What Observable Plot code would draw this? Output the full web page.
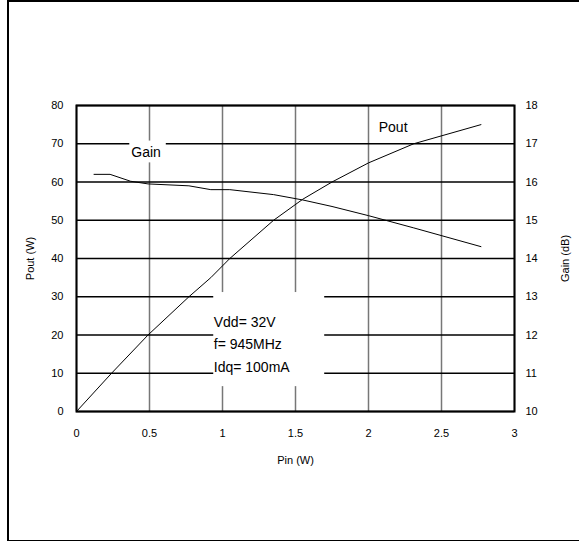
<!DOCTYPE html>
<html>
<head>
<meta charset="utf-8">
<script src="https://cdn.jsdelivr.net/npm/d3@7"></script>
<script src="https://cdn.jsdelivr.net/npm/@observablehq/plot@0.6"></script>
<style>
  html, body { margin: 0; padding: 0; background: #fff; overflow: hidden; }
  #wrap { position: relative; width: 579px; height: 541px; overflow: hidden; }
  #border { position: absolute; left: 7px; top: 0; width: 800px; height: 538px;
            border-top: 2px solid #000; border-left: 2px solid #000; border-bottom: 1.5px solid #000; border-right: none; box-sizing: content-box; }
  #chart { position: absolute; left: 0; top: 0; }
</style>
</head>
<body>
<div id="wrap"><div id="border"></div><div id="chart"></div></div>
<script>
// Pout (W) vs Pin (W)
const poutPin = [0, 0.24, 0.49, 0.77, 0.92, 1.05, 1.35, 1.55, 1.75, 2.0, 2.31, 2.77];
const poutW   = [0, 10, 20, 30, 35, 40, 50, 55.5, 60, 65, 70, 75];
// Gain (dB) vs Pin (W)
const gainPin = [0.12, 0.23, 0.37, 0.49, 0.77, 0.92, 1.05, 1.35, 1.55, 1.75, 2.0, 2.31, 2.77];
const gainDb  = [16.2, 16.2, 16.02, 15.95, 15.9, 15.8, 15.8, 15.67, 15.53, 15.36, 15.12, 14.8, 14.31];
// tick labels
const xTicks = [0, 0.5, 1, 1.5, 2, 2.5, 3];
const yLeftTicks = [0, 10, 20, 30, 40, 50, 60, 70, 80];
const yRightTicks = [10, 11, 12, 13, 14, 15, 16, 17, 18];
const noteLines = ["Vdd= 32V", "f= 945MHz", "Idq= 100mA"];

const pout = poutPin.map((p, i) => ({pin: p, pout: poutW[i]}));
const gain = gainPin.map((p, i) => ({pin: p, gain: gainDb[i]}));
// map gain (10..18 dB) onto left scale (0..80)
const g2y = g => (g - 10) * 10;

const font = "'Liberation Sans', Arial, sans-serif";

const chart = Plot.plot({
  width: 579,
  height: 541,
  marginLeft: 76,
  marginRight: 65,
  marginTop: 105,
  marginBottom: 130,
  style: {fontFamily: font, fontSize: "11px", color: "#000", background: "transparent"},
  x: {domain: [0, 3]},
  y: {domain: [0, 80]},
  marks: [
    Plot.gridX(xTicks, {stroke: "#777", strokeOpacity: 1, strokeWidth: 1.5}),
    Plot.gridY(yLeftTicks, {stroke: "#000", strokeOpacity: 1, strokeWidth: 1.5}),
    // white boxes behind annotations
    Plot.rect([0], {x1: 0.94, x2: 1.70, y1: 6.5, y2: 31.1, fill: "white"}),
    Plot.rect([0], {x1: 0.365, x2: 0.615, y1: 65, y2: 70.7, fill: "white"}),
    Plot.frame({stroke: "#000", strokeWidth: 2}),
    Plot.line(pout, {x: "pin", y: "pout", stroke: "#000", strokeWidth: 1}),
    Plot.line(gain, {x: "pin", y: d => g2y(d.gain), stroke: "#000", strokeWidth: 1}),
    Plot.axisX(xTicks, {tickSize: 0, tickPadding: 18, fontSize: 11, tickFormat: d => String(d), label: "Pin (W)", labelAnchor: "center", labelArrow: "none", labelOffset: 52}),
    Plot.axisY(yLeftTicks, {anchor: "left", tickSize: 0, tickPadding: 13, fontSize: 11, tickFormat: d => String(d), label: "Pout (W)", labelAnchor: "center", labelArrow: "none", labelOffset: 50}),
    Plot.axisY(yRightTicks.map(g2y), {anchor: "right", tickSize: 0, tickPadding: 11, fontSize: 11,
      tickFormat: (d, i) => String(yRightTicks[i]), label: "Gain (dB)", labelAnchor: "center", labelArrow: "none", labelOffset: 54}),
    Plot.text(noteLines, {x: 0.94, y: (d, i) => 23.3 - i * 5.9, text: d => d, textAnchor: "start", fontSize: 14, fill: "#000"}),
    Plot.text(["Gain"], {x: 0.375, y: 67.6, text: d => d, textAnchor: "start", fontSize: 14, fill: "#000"}),
    Plot.text(["Pout"], {x: 2.07, y: 74.2, text: d => d, textAnchor: "start", fontSize: 14, fill: "#000"})
  ]
});
document.getElementById("chart").appendChild(chart);
</script>
</body>
</html>
